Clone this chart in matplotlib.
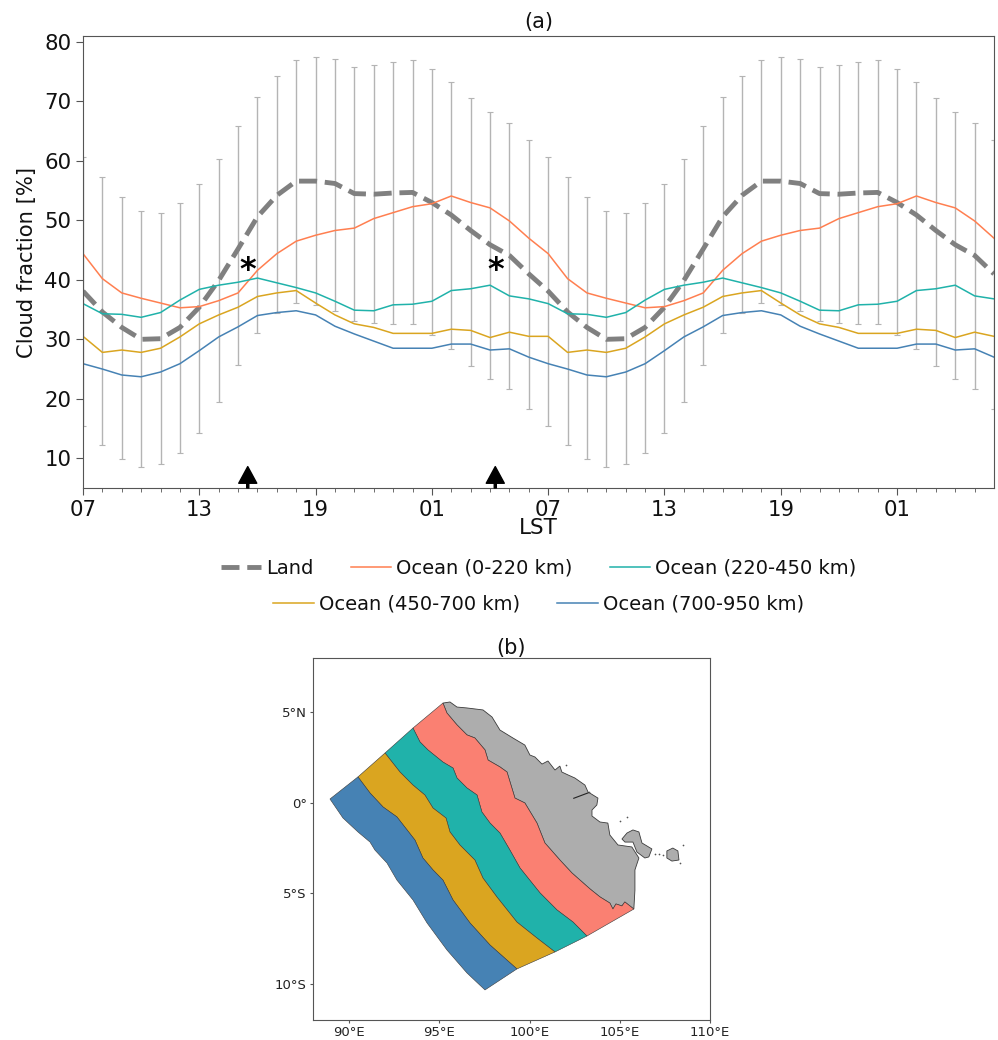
import matplotlib
matplotlib.use('Agg')
import matplotlib.pyplot as plt
import numpy as np

hours = list(range(48))
tick_pos = [0, 6, 12, 18, 24, 30, 36, 42]
tick_labels = ['07', '13', '19', '01', '07', '13', '19', '01']

# one diurnal cycle, drawn twice
land = [38.1, 34.6, 32.0, 30.0, 30.1, 32.0, 35.4, 39.9, 45.2, 50.6, 54.2, 56.6,
        56.6, 56.2, 54.5, 54.4, 54.6, 54.7, 53.0, 50.9, 48.3, 45.9, 44.1, 41.0]
land_upper = [60.6, 57.3, 54.0, 51.6, 51.3, 53.0, 56.1, 60.3, 65.8, 70.7, 74.2, 77.0,
              77.5, 77.2, 75.8, 76.1, 76.7, 76.9, 75.4, 73.2, 70.6, 68.3, 66.3, 63.5]
land_lower = [15.4, 12.3, 9.9, 8.5, 9.0, 10.9, 14.3, 19.4, 25.6, 31.0, 34.4, 36.1,
              35.7, 34.8, 33.0, 32.7, 32.5, 32.5, 30.8, 28.4, 25.5, 23.4, 21.6, 18.3]
ocean_0_220 = [44.4, 40.2, 37.8, 36.9, 36.1, 35.3, 35.5, 36.5, 37.8, 41.6, 44.4, 46.5,
               47.5, 48.3, 48.7, 50.3, 51.3, 52.3, 52.8, 54.1, 53.0, 52.1, 49.9, 47.0]
ocean_220_450 = [36.0, 34.3, 34.2, 33.7, 34.5, 36.6, 38.4, 39.1, 39.6, 40.3, 39.5, 38.7,
                 37.8, 36.4, 34.9, 34.8, 35.8, 35.9, 36.4, 38.2, 38.5, 39.1, 37.3, 36.8]
ocean_450_700 = [30.5, 27.8, 28.2, 27.8, 28.5, 30.4, 32.6, 34.1, 35.4, 37.2, 37.8, 38.2,
                 36.1, 34.1, 32.6, 32.0, 31.0, 31.0, 31.0, 31.7, 31.5, 30.3, 31.2, 30.5]
ocean_700_950 = [25.9, 25.0, 24.0, 23.7, 24.5, 25.9, 28.1, 30.4, 32.1, 34.0, 34.5, 34.8,
                 34.1, 32.2, 30.9, 29.7, 28.5, 28.5, 28.5, 29.2, 29.2, 28.2, 28.4, 27.0]
marks_x = [8.5, 21.27]

# region edges in lon/lat
outer_lon = [88.94, 89.66, 90.49, 91.16, 91.43, 92.10, 92.65, 93.54, 94.32, 95.42, 96.53, 97.53]
outer_lat = [0.21, -0.84, -1.61, -2.17, -2.61, -3.33, -4.27, -5.37, -6.64, -8.13, -9.40, -10.34]
edge_d_lon = [90.49, 91.16, 91.88, 92.65, 93.65, 94.09, 94.65, 95.20, 95.76, 96.70, 97.81, 99.30]
edge_d_lat = [1.43, 0.54, -0.23, -0.78, -2.06, -3.05, -3.71, -4.27, -5.37, -6.64, -7.86, -9.18]
edge_c_lon = [91.99, 92.82, 93.54, 94.20, 94.65, 95.37, 95.59, 96.14, 96.97, 97.42, 98.19, 99.30, 100.41, 101.41]
edge_c_lat = [2.75, 1.70, 0.98, 0.43, -0.29, -0.84, -1.61, -2.33, -3.16, -4.16, -5.20, -6.59, -7.47, -8.24]
edge_b_lon = [93.54, 93.93, 94.37, 95.20, 95.76, 95.98, 96.53, 97.09, 97.36, 97.81, 98.36, 98.91, 99.47,
              100.58, 101.52, 102.41, 103.18]
edge_b_lat = [4.13, 3.36, 2.92, 2.25, 1.92, 1.37, 0.82, 0.43, -0.51, -1.12, -1.67, -2.61, -3.60,
              -4.98, -5.92, -6.59, -7.36]
edge_a_lon = [95.20, 95.42, 95.98, 96.53, 96.97, 97.53, 97.70, 98.36, 98.75, 99.19, 99.74, 100.41, 100.85,
              101.68, 102.35, 103.35, 103.90, 104.45, 104.62, 104.79, 105.12, 105.28, 105.78]
edge_a_lat = [5.51, 4.96, 4.30, 3.75, 3.58, 2.92, 2.36, 1.98, 1.70, 0.26, -0.01, -1.12, -2.22,
              -3.16, -3.88, -4.76, -5.20, -5.54, -5.87, -5.59, -5.70, -5.48, -5.87]
coast_lon = [95.59, 95.98, 96.53, 97.42, 97.92, 98.36, 99.08, 99.74, 100.02, 100.30, 100.69, 101.02, 101.41,
             101.68, 101.79, 102.13, 102.51, 103.07, 103.24, 103.79, 103.73, 103.46, 103.46, 103.90, 104.34,
             104.45, 104.90, 105.67, 106.06, 105.84, 105.84, 105.78]
coast_lat = [5.57, 5.29, 5.24, 5.13, 4.74, 4.02, 3.58, 3.19, 2.64, 2.53, 2.14, 2.31, 1.81,
             2.03, 1.70, 1.54, 1.37, 0.98, 0.60, 0.26, -0.12, -0.40, -0.73, -1.06, -1.12,
             -1.78, -2.33, -2.44, -3.05, -3.71, -4.82, -5.87]
island1_lon = [105.12, 105.40, 105.73, 106.06, 106.23, 106.78, 106.61, 106.39, 105.95, 105.73, 105.29]
island1_lat = [-2.00, -1.67, -1.50, -1.61, -2.22, -2.55, -2.99, -3.05, -2.72, -2.17, -2.17]
island2_lon = [107.61, 107.94, 108.22, 108.28, 107.89, 107.61]
island2_lat = [-2.66, -2.50, -2.66, -3.16, -3.22, -3.05]
islet_lon = [105.00, 105.40, 106.95, 107.15, 107.40, 108.50, 108.35, 103.30, 102.00]
islet_lat = [-1.00, -0.80, -2.85, -2.85, -2.90, -2.35, -3.30, 0.60, 2.10]
inlet_lon = [102.45, 103.25]
inlet_lat = [0.25, 0.55]
lon_ticks = [90, 95, 100, 105, 110]
lon_labels = ['90°E', '95°E', '100°E', '105°E', '110°E']
lat_ticks = [5, 0, -5, -10]
lat_labels = ['5°N', '0°', '5°S', '10°S']

fig = plt.figure(figsize=(9.98, 10.4), dpi=100)
ax = fig.add_axes([83 / 998, 1 - 488 / 1040, 911 / 998, 452 / 1040])

land2 = np.array(land * 2)
yerr = [land2 - np.array(land_lower * 2), np.array(land_upper * 2) - land2]
ax.errorbar(hours, land2, yerr=yerr, fmt='none', ecolor='#b4b4b4', elinewidth=1, capsize=2.5, capthick=0.8)
l0, = ax.plot(hours, land2, color='grey', lw=3.5, ls='--', label='Land')
l1, = ax.plot(hours, ocean_0_220 * 2, color='coral', lw=1.1, label='Ocean (0-220 km)')
l2, = ax.plot(hours, ocean_220_450 * 2, color='lightseagreen', lw=1.1, label='Ocean (220-450 km)')
l3, = ax.plot(hours, ocean_450_700 * 2, color='goldenrod', lw=1.1, label='Ocean (450-700 km)')
l4, = ax.plot(hours, ocean_700_950 * 2, color='steelblue', lw=1.1, label='Ocean (700-950 km)')

for mx in marks_x:
    ax.annotate('', xy=(mx, 8.6), xytext=(mx, 5),
                arrowprops=dict(facecolor='k', edgecolor='k', width=1.5, headwidth=13, headlength=12, shrink=0))
    ax.text(mx, 41.5, '*', fontsize=23, fontweight='bold', ha='center', va='center')

ax.set_xlim(0, 47)
ax.set_ylim(5, 81)
ax.set_xticks(tick_pos)
ax.set_xticklabels(tick_labels)
ax.set_xticks(hours[:-1], minor=True)
ax.set_yticks([10, 20, 30, 40, 50, 60, 70, 80])
ax.tick_params(axis='both', which='major', labelsize=15.3, length=5, color='#555555', labelcolor='#111111')
ax.tick_params(axis='x', which='minor', length=3, color='#555555')
ax.set_xlabel('LST', fontsize=15.5, labelpad=-1, color='#111111')
ax.set_ylabel('Cloud fraction [%]', fontsize=15.2, labelpad=5, color='#111111')
ax.set_title('(a)', fontsize=15, pad=6, color='#111111')
for s in ax.spines.values():
    s.set_color('#555555')

leg1 = ax.legend(handles=[l0, l1, l2], loc='center', bbox_to_anchor=(0.5, -0.177), ncol=3, frameon=False,
                 fontsize=14, handletextpad=0.25, columnspacing=1.9, handlelength=2.1, labelcolor='#111111')
ax.add_artist(leg1)
ax.legend(handles=[l3, l4], loc='center', bbox_to_anchor=(0.5, -0.257), ncol=2, frameon=False,
          fontsize=14, handletextpad=0.25, columnspacing=1.9, handlelength=2.1, labelcolor='#111111')

mp = fig.add_axes([313 / 998, 1 - 1020 / 1040, 397 / 998, 362 / 1040])
ec = '#3a3a3a'
mp.fill(coast_lon + edge_a_lon[::-1][1:] + edge_a_lon[:1], coast_lat + edge_a_lat[::-1][1:] + edge_a_lat[:1],
        facecolor='#adadad', edgecolor=ec, lw=0.6)
mp.fill(edge_b_lon + edge_a_lon[::-1], edge_b_lat + edge_a_lat[::-1], facecolor='salmon', edgecolor=ec, lw=0.4)
mp.fill(edge_c_lon + edge_b_lon[::-1], edge_c_lat + edge_b_lat[::-1], facecolor='lightseagreen', edgecolor=ec, lw=0.4)
mp.fill(edge_d_lon + edge_c_lon[::-1], edge_d_lat + edge_c_lat[::-1], facecolor='goldenrod', edgecolor=ec, lw=0.4)
mp.fill(outer_lon + edge_d_lon[::-1], outer_lat + edge_d_lat[::-1], facecolor='steelblue', edgecolor=ec, lw=0.4)
mp.fill(island1_lon, island1_lat, facecolor='#adadad', edgecolor=ec, lw=0.6)
mp.fill(island2_lon, island2_lat, facecolor='#adadad', edgecolor=ec, lw=0.6)
mp.plot(inlet_lon, inlet_lat, color='#222222', lw=0.8)
mp.scatter(islet_lon, islet_lat, s=1.5, color='#555555', linewidths=0)
mp.set_xlim(88, 110)
mp.set_ylim(-12, 8)
mp.set_xticks(lon_ticks)
mp.set_xticklabels(lon_labels)
mp.set_yticks(lat_ticks)
mp.set_yticklabels(lat_labels)
mp.tick_params(labelsize=9.5, length=2.5, pad=2, color='#555555', labelcolor='#222222')
mp.set_title('(b)', fontsize=15, pad=0, color='#111111')
for s in mp.spines.values():
    s.set_color('#555555')

fig.savefig('out.png', dpi=100)
